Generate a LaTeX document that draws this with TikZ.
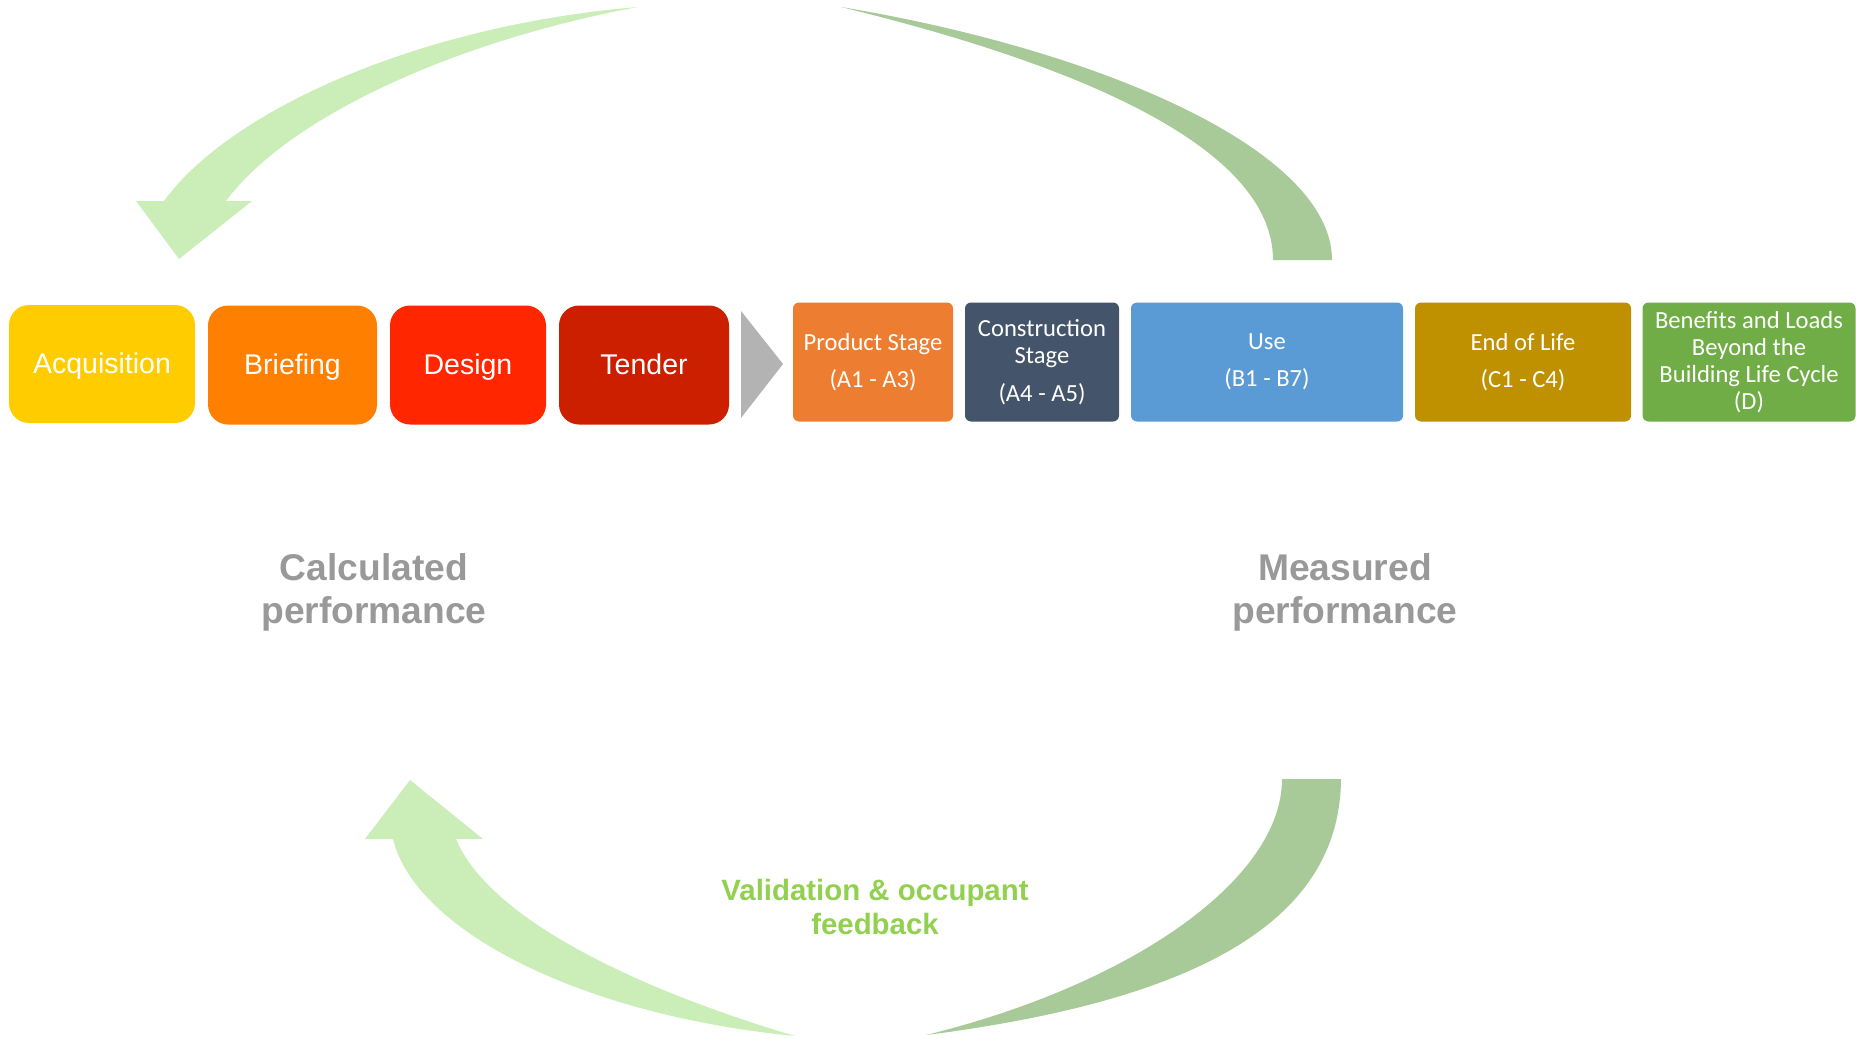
\documentclass[tikz,border=0pt]{standalone}
\usepackage{fontspec}
\setmainfont{Liberation Sans}
\newfontfamily\stagefont{Carlito}
\usepackage{tikz}
\definecolor{acqyellow}{HTML}{FFCC00}
\definecolor{brieforange}{HTML}{FF7F00}
\definecolor{designred}{HTML}{FF2600}
\definecolor{tenderred}{HTML}{CC1F00}
\definecolor{prodorange}{HTML}{ED7D31}
\definecolor{constrslate}{HTML}{44546A}
\definecolor{useblue}{HTML}{5B9BD5}
\definecolor{eolgold}{HTML}{BF9000}
\definecolor{benefgreen}{HTML}{70AD47}
\definecolor{chevgray}{HTML}{B3B3B3}
\definecolor{lightloop}{HTML}{CBEEB9}
\definecolor{darkloop}{HTML}{A8C998}
\definecolor{perfgray}{HTML}{999999}
\definecolor{feedgreen}{HTML}{92D050}
\tikzset{%
  phase/.style = {shape=rectangle, rounded corners=10pt, fill=#1,%
                  text=white, inner sep=0pt,%
                  text height=0.95em, text depth=0pt,%
                  font=\fontsize{14.25}{17}\selectfont},%
  stage/.style = {shape=rectangle, rounded corners=3pt, fill=#1,%
                  text=white, inner sep=0pt, align=center,%
                  minimum height=59.5pt,%
                  font=\stagefont\fontsize{12.3}{13.5}\selectfont},%
  perf/.style  = {align=center, text=perfgray,%
                  font=\bfseries\fontsize{18.6}{21.5}\selectfont},%
  looparrow/.style = {fill=#1, draw=none}%
}

\begin{document}
\begin{tikzpicture}[x=0.5pt,y=-0.5pt]
	\useasboundingbox (0,0) rectangle (1856,1038);
	% design phases
	\node[phase=acqyellow, minimum width=93pt, minimum height=59pt] (acq) at (102,364) {Acquisition};
	\node[phase=brieforange, minimum width=84.5pt, minimum height=59.5pt] (brief) at (292.5,365) {Briefing};
	\node[phase=designred, minimum width=78pt, minimum height=59.5pt] (design) at (468,365) {Design};
	\node[phase=tenderred, minimum width=85pt, minimum height=59.5pt] (tender) at (644,365) {Tender};
	\fill[chevgray] (741,311) -- (783,364) -- (741,418) -- cycle;
	% life cycle stages
	\node[stage=prodorange, minimum width=80pt] (prod) at (873,362) {Product Stage\\[5pt](A1 - A3)};
	\node[stage=constrslate, minimum width=77pt] (constr) at (1042,362) {Construction\\Stage\\[5.5pt](A4 - A5)};
	\node[stage=useblue, minimum width=136pt] (use) at (1267,362) {Use\\[5pt](B1 - B7)};
	\node[stage=eolgold, minimum width=108pt] (eol) at (1523,362) {End of Life\\[5pt](C1 - C4)};
	\node[stage=benefgreen, minimum width=106.5pt] (benef) at (1749,362) {Benefits and Loads\\Beyond the\\Building Life Cycle\\(D)};
	% upper loop
	\fill[looparrow=lightloop] (638,7) .. controls (420,25) and (230,110) .. (164,201)
		-- (136,201) -- (179,259) -- (252,201) -- (226,201)
		.. controls (290,115) and (460,40) .. (638,7) -- cycle;
	\fill[looparrow=darkloop] (841,7) .. controls (1100,50) and (1332,150) .. (1332,260)
		-- (1273,260) .. controls (1273,160) and (1120,75) .. (841,7) -- cycle;
	% lower loop
	\fill[looparrow=darkloop] (1341,779) .. controls (1340,920) and (1200,1000) .. (926,1035)
		.. controls (1130,985) and (1282,880) .. (1282,779) -- cycle;
	\fill[looparrow=lightloop] (795,1036) .. controls (580,1015) and (415,930) .. (393,839)
		-- (365,839) -- (410,780) -- (483,839) -- (456,839)
		.. controls (490,920) and (640,990) .. (795,1036) -- cycle;
	% labels
	\node[perf] (calc) at (374,592) {Calculated\\performance};
	\node[perf] (meas) at (1345,592) {Measured\\performance};
	\node[align=center, text=feedgreen, font=\bfseries\fontsize{14.7}{17}\selectfont] (feed) at (875,907) {Validation \& occupant\\feedback};
\end{tikzpicture}
\end{document}
